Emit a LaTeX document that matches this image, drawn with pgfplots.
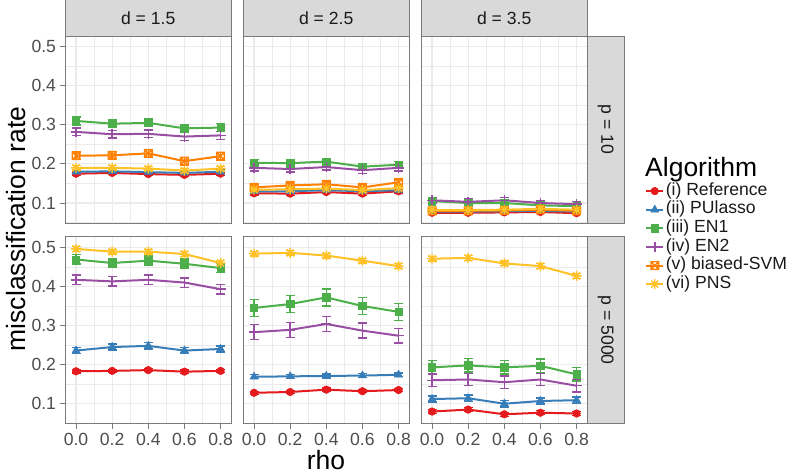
\documentclass[border=0pt]{standalone}
\usepackage{fontspec}
\setmainfont{Liberation Sans}
\usepackage{pgfplots}
\pgfplotsset{compat=1.18}
\usepackage{pgfplotstable}

\definecolor{cref}{HTML}{E41A1C}
\definecolor{cpu}{HTML}{377EB8}
\definecolor{cen1}{HTML}{4DAF4A}
\definecolor{cen2}{HTML}{984EA3}
\definecolor{csvm}{HTML}{FF7F00}
\definecolor{cpns}{HTML}{FFC125}
\definecolor{gridc}{HTML}{EBEBEB}
\definecolor{stripc}{HTML}{D9D9D9}
\definecolor{bordc}{HTML}{7A7A7A}
\definecolor{tickc}{HTML}{4D4D4D}
\definecolor{txtc}{HTML}{1A1A1A}

\pgfdeclareplotmark{ast8}{%
  \pgfpathmoveto{\pgfqpoint{-\pgfplotmarksize}{0pt}}\pgfpathlineto{\pgfqpoint{\pgfplotmarksize}{0pt}}%
  \pgfpathmoveto{\pgfqpoint{0pt}{-\pgfplotmarksize}}\pgfpathlineto{\pgfqpoint{0pt}{\pgfplotmarksize}}%
  \pgfpathmoveto{\pgfqpoint{-0.707\pgfplotmarksize}{-0.707\pgfplotmarksize}}\pgfpathlineto{\pgfqpoint{0.707\pgfplotmarksize}{0.707\pgfplotmarksize}}%
  \pgfpathmoveto{\pgfqpoint{-0.707\pgfplotmarksize}{0.707\pgfplotmarksize}}\pgfpathlineto{\pgfqpoint{0.707\pgfplotmarksize}{-0.707\pgfplotmarksize}}%
  \pgfusepathqstroke}
\pgfdeclareplotmark{sqx}{%
  \pgfpathrectangle{\pgfqpoint{-\pgfplotmarksize}{-\pgfplotmarksize}}{\pgfqpoint{2\pgfplotmarksize}{2\pgfplotmarksize}}%
  \pgfpathmoveto{\pgfqpoint{-\pgfplotmarksize}{-\pgfplotmarksize}}\pgfpathlineto{\pgfqpoint{\pgfplotmarksize}{\pgfplotmarksize}}%
  \pgfpathmoveto{\pgfqpoint{-\pgfplotmarksize}{\pgfplotmarksize}}\pgfpathlineto{\pgfqpoint{\pgfplotmarksize}{-\pgfplotmarksize}}%
  \pgfusepathqstroke}

% d=1.5, p=10
\pgfplotstableread{
rho ref refe pu pue en1 en1e en2 en2e svm svme pns pnse
0.0 0.175 0.004 0.180 0.004 0.310 0.010 0.282 0.010 0.221 0.010 0.190 0.006
0.2 0.177 0.004 0.181 0.004 0.303 0.010 0.276 0.010 0.222 0.010 0.190 0.006
0.4 0.174 0.004 0.179 0.004 0.305 0.010 0.277 0.010 0.227 0.010 0.188 0.006
0.6 0.172 0.004 0.177 0.004 0.291 0.010 0.270 0.010 0.207 0.010 0.183 0.006
0.8 0.175 0.004 0.180 0.004 0.293 0.010 0.273 0.010 0.220 0.010 0.188 0.006
}\tA
% d=2.5, p=10
\pgfplotstableread{
rho ref refe pu pue en1 en1e en2 en2e svm svme pns pnse
0.0 0.125 0.004 0.130 0.004 0.203 0.008 0.190 0.008 0.140 0.007 0.134 0.005
0.2 0.124 0.004 0.130 0.004 0.202 0.008 0.187 0.008 0.145 0.007 0.135 0.005
0.4 0.128 0.004 0.133 0.004 0.206 0.008 0.192 0.008 0.148 0.007 0.137 0.005
0.6 0.124 0.004 0.130 0.004 0.193 0.008 0.184 0.008 0.140 0.007 0.133 0.005
0.8 0.130 0.004 0.133 0.004 0.198 0.008 0.190 0.008 0.153 0.007 0.138 0.005
}\tB
% d=3.5, p=10
\pgfplotstableread{
rho ref refe pu pue en1 en1e en2 en2e svm svme pns pnse
0.0 0.075 0.003 0.078 0.003 0.105 0.006 0.107 0.007 0.080 0.004 0.082 0.004
0.2 0.075 0.003 0.078 0.003 0.100 0.006 0.103 0.007 0.080 0.004 0.082 0.004
0.4 0.076 0.003 0.079 0.003 0.100 0.006 0.107 0.007 0.081 0.004 0.083 0.004
0.6 0.077 0.003 0.080 0.003 0.094 0.006 0.100 0.007 0.083 0.004 0.085 0.004
0.8 0.074 0.003 0.078 0.003 0.092 0.006 0.097 0.007 0.080 0.004 0.083 0.004
}\tC
% d=1.5, p=5000
\pgfplotstableread{
rho ref refe pu pue en1 en1e en2 en2e pns pnse
0.0 0.183 0.004 0.236 0.008 0.469 0.012 0.417 0.012 0.496 0.006
0.2 0.184 0.004 0.245 0.008 0.460 0.012 0.413 0.012 0.489 0.006
0.4 0.186 0.004 0.248 0.008 0.466 0.012 0.417 0.012 0.489 0.006
0.6 0.182 0.004 0.236 0.008 0.458 0.012 0.410 0.012 0.483 0.006
0.8 0.184 0.004 0.240 0.008 0.447 0.012 0.393 0.012 0.460 0.006
}\tD
% d=2.5, p=5000
\pgfplotstableread{
rho ref refe pu pue en1 en1e en2 en2e pns pnse
0.0 0.128 0.004 0.169 0.005 0.345 0.022 0.283 0.019 0.484 0.006
0.2 0.130 0.004 0.170 0.005 0.355 0.022 0.289 0.019 0.486 0.006
0.4 0.136 0.004 0.171 0.005 0.372 0.022 0.304 0.019 0.479 0.006
0.6 0.132 0.004 0.172 0.005 0.350 0.022 0.287 0.019 0.466 0.006
0.8 0.135 0.004 0.174 0.005 0.335 0.022 0.274 0.019 0.452 0.006
}\tE
% d=3.5, p=5000
\pgfplotstableread{
rho ref refe pu pue en1 en1e en2 en2e pns pnse
0.0 0.080 0.005 0.112 0.008 0.193 0.017 0.160 0.016 0.471 0.006
0.2 0.085 0.005 0.114 0.008 0.198 0.017 0.162 0.016 0.473 0.006
0.4 0.073 0.005 0.100 0.008 0.193 0.017 0.155 0.016 0.459 0.006
0.6 0.077 0.005 0.107 0.008 0.197 0.017 0.162 0.016 0.452 0.006
0.8 0.075 0.005 0.109 0.008 0.175 0.017 0.146 0.016 0.427 0.006
}\tF

\pgfplotsset{
  panel/.style={scale only axis, width=166.3pt, height=187pt,
    xmin=-0.0611, xmax=0.8594, ymin=0.0489, ymax=0.5273,
    xtick={0,0.2,0.4,0.6,0.8}, ytick={0.1,0.2,0.3,0.4,0.5},
    minor xtick={0.1,0.3,0.5,0.7}, minor ytick={0.05,0.15,0.25,0.35,0.45},
    grid=both,
    major grid style={draw=gridc, line width=1.1pt},
    minor grid style={draw=gridc, line width=0.55pt},
    axis line style={draw=bordc, line width=0.9pt},
    tick align=outside, tick pos=left,
    major tick length=5.5pt, minor tick length=0pt,
    tick style={draw=bordc, line width=0.9pt},
    ticklabel style={font=\fontsize{17.6pt}{20pt}\selectfont, text=tickc,
      /pgf/number format/.cd, fixed, fixed zerofill, precision=1, assume math mode=true},
    anchor=north west},
  notop/.style={xticklabels={}, x tick style={draw=none}},
  noleft/.style={yticklabels={}, y tick style={draw=none}},
  ser/.style={line width=2pt, error bars/.cd, y dir=both, y explicit,
    error bar style={line width=1.4pt, solid},
    error mark=|, error mark options={line width=1.4pt, mark size=4.5pt}},
  sref/.style={cref, mark=*, mark size=3.8pt, mark options={solid, line width=0.5pt}, ser},
  spu/.style={cpu, mark=triangle*, mark size=4.6pt, mark options={solid, line width=0.5pt}, ser},
  sen1/.style={cen1, mark=square*, mark size=3.7pt, mark options={solid, line width=0.5pt}, ser},
  sen2/.style={cen2, mark=+, mark size=5pt, mark options={solid, line width=1.5pt}, ser},
  ssvm/.style={csvm, mark=sqx, mark size=3.8pt, mark options={solid, line width=1.4pt}, ser},
  spns/.style={cpns, mark=ast8, mark size=5pt, mark options={solid, line width=1.4pt}, ser},
}

\begin{document}
\begin{tikzpicture}
\path[use as bounding box] (0pt,0pt) rectangle (800pt,476pt);

% ---- top row (p = 10)
\begin{axis}[panel, notop, at={(65pt,440pt)}]
\addplot[sref] table[x=rho, y=ref, y error=refe] {\tA};
\addplot[spu] table[x=rho, y=pu, y error=pue] {\tA};
\addplot[sen1] table[x=rho, y=en1, y error=en1e] {\tA};
\addplot[sen2] table[x=rho, y=en2, y error=en2e] {\tA};
\addplot[ssvm] table[x=rho, y=svm, y error=svme] {\tA};
\addplot[spns] table[x=rho, y=pns, y error=pnse] {\tA};
\end{axis}
\begin{axis}[panel, notop, noleft, at={(243pt,440pt)}]
\addplot[sref] table[x=rho, y=ref, y error=refe] {\tB};
\addplot[spu] table[x=rho, y=pu, y error=pue] {\tB};
\addplot[sen1] table[x=rho, y=en1, y error=en1e] {\tB};
\addplot[sen2] table[x=rho, y=en2, y error=en2e] {\tB};
\addplot[ssvm] table[x=rho, y=svm, y error=svme] {\tB};
\addplot[spns] table[x=rho, y=pns, y error=pnse] {\tB};
\end{axis}
\begin{axis}[panel, notop, noleft, at={(421pt,440pt)},
  legend style={at={(1.347,0.2205)}, anchor=north west, draw=none, fill=none,
    inner sep=0pt, row sep=0.3pt, font=\fontsize{17.6pt}{20pt}\selectfont, text=txtc,
    nodes={inner sep=1.5pt, text height=11.8pt, text depth=3.5pt}},
  legend cell align=left]
\addplot[sref] table[x=rho, y=ref, y error=refe] {\tC};
\addlegendentry{(i) Reference}
\addplot[spu] table[x=rho, y=pu, y error=pue] {\tC};
\addlegendentry{(ii) PUlasso}
\addplot[sen1] table[x=rho, y=en1, y error=en1e] {\tC};
\addlegendentry{(iii) EN1}
\addplot[sen2] table[x=rho, y=en2, y error=en2e] {\tC};
\addlegendentry{(iv) EN2}
\addplot[ssvm] table[x=rho, y=svm, y error=svme] {\tC};
\addlegendentry{(v) biased-SVM}
\addplot[spns] table[x=rho, y=pns, y error=pnse] {\tC};
\addlegendentry{(vi) PNS}
\end{axis}

% ---- bottom row (p = 5000)
\begin{axis}[panel, at={(65pt,239.3pt)}]
\addplot[sref] table[x=rho, y=ref, y error=refe] {\tD};
\addplot[spu] table[x=rho, y=pu, y error=pue] {\tD};
\addplot[sen1] table[x=rho, y=en1, y error=en1e] {\tD};
\addplot[sen2] table[x=rho, y=en2, y error=en2e] {\tD};
\addplot[spns] table[x=rho, y=pns, y error=pnse] {\tD};
\end{axis}
\begin{axis}[panel, noleft, at={(243pt,239.3pt)}]
\addplot[sref] table[x=rho, y=ref, y error=refe] {\tE};
\addplot[spu] table[x=rho, y=pu, y error=pue] {\tE};
\addplot[sen1] table[x=rho, y=en1, y error=en1e] {\tE};
\addplot[sen2] table[x=rho, y=en2, y error=en2e] {\tE};
\addplot[spns] table[x=rho, y=pns, y error=pnse] {\tE};
\end{axis}
\begin{axis}[panel, noleft, at={(421pt,239.3pt)}]
\addplot[sref] table[x=rho, y=ref, y error=refe] {\tF};
\addplot[spu] table[x=rho, y=pu, y error=pue] {\tF};
\addplot[sen1] table[x=rho, y=en1, y error=en1e] {\tF};
\addplot[sen2] table[x=rho, y=en2, y error=en2e] {\tF};
\addplot[spns] table[x=rho, y=pns, y error=pnse] {\tF};
\end{axis}

% ---- strips
\begin{scope}[every node/.style={font=\fontsize{17.6pt}{20pt}\selectfont, text=txtc}]
\draw[draw=bordc, line width=0.9pt, fill=stripc] (65pt,440pt) rectangle (231.3pt,476.5pt);
\draw[draw=bordc, line width=0.9pt, fill=stripc] (243pt,440pt) rectangle (409.3pt,476.5pt);
\draw[draw=bordc, line width=0.9pt, fill=stripc] (421pt,440pt) rectangle (587.3pt,476.5pt);
\node at (148.2pt,457.5pt) {d = 1.5};
\node at (326.2pt,457.5pt) {d = 2.5};
\node at (504.2pt,457.5pt) {d = 3.5};
\draw[draw=bordc, line width=0.9pt, fill=stripc] (587.3pt,440pt) rectangle (624pt,253pt);
\draw[draw=bordc, line width=0.9pt, fill=stripc] (587.3pt,239.3pt) rectangle (624pt,52.3pt);
\node[rotate=-90] at (605.6pt,346.5pt) {p = 10};
\node[rotate=-90] at (605.6pt,145.8pt) {p = 5000};
\end{scope}

% ---- axis titles and legend title
\node[rotate=90, font=\fontsize{26.5pt}{28pt}\selectfont, text=black] at (16pt,247pt) {misclassification rate};
\node[anchor=base, inner sep=0pt, font=\fontsize{26.5pt}{28pt}\selectfont, text=black] at (326pt,6pt) {rho};
\node[anchor=base west, inner sep=0pt, font=\fontsize{26.5pt}{28pt}\selectfont, text=black] at (645pt,299pt) {Algorithm};
\end{tikzpicture}
\end{document}
